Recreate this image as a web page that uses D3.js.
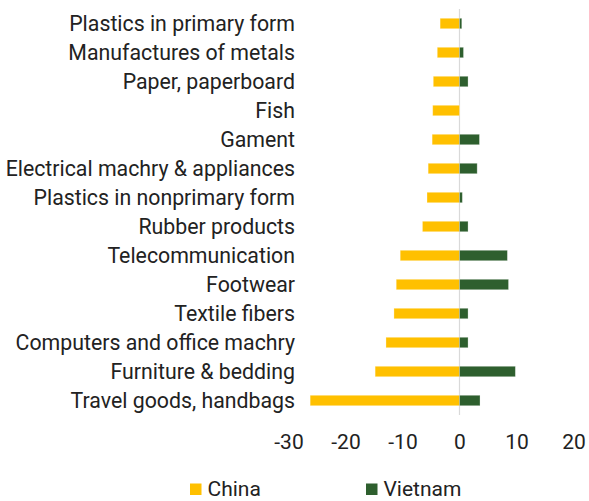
<!DOCTYPE html>
<html><head><meta charset="utf-8">
<script src="https://cdn.jsdelivr.net/npm/d3@7"></script>
<style>body{margin:0;background:#fff}svg{display:block;font-family:Roboto,"Noto Sans",sans-serif}</style>
</head><body><svg id="c" width="589" height="501"></svg>
<script>
const categories = ["Plastics in primary form","Manufactures of metals","Paper, paperboard","Fish","Gament","Electrical machry & appliances","Plastics in nonprimary form","Rubber products","Telecommunication","Footwear","Textile fibers","Computers and office machry","Furniture & bedding","Travel goods, handbags"];
const china = [-3.4,-3.9,-4.6,-4.7,-4.8,-5.5,-5.7,-6.5,-10.4,-11.1,-11.5,-12.9,-14.8,-26.2];
const vietnam = [0.4,0.7,1.5,0,3.5,3.1,0.5,1.5,8.4,8.6,1.5,1.5,9.8,3.6];
const ticks = [-30,-20,-10,0,10,20];
const series = [{name:"China", values:china, color:"#FFC000"},{name:"Vietnam", values:vietnam, color:"#2E5F2E"}];

const svg = d3.select("#c");
const x = d3.scaleLinear().domain([-30,20]).range([288.5,573.5]);
const y = d3.scaleBand().domain(categories).range([9,415]).paddingInner(0.64).paddingOuter(0.32);

svg.append("line").attr("x1",x(0)).attr("x2",x(0)).attr("y1",9).attr("y2",415).attr("stroke","#d9d9d9").attr("stroke-width",1.2);

series.forEach(s=>{
  svg.append("g").selectAll("rect").data(s.values).join("rect")
    .attr("x",d=>Math.min(x(0),x(d))).attr("width",d=>Math.abs(x(d)-x(0)))
    .attr("y",(d,i)=>y(categories[i])).attr("height",y.bandwidth())
    .attr("fill",s.color).attr("stroke",d=>d===0?"none":"#fff").attr("stroke-opacity",0.35).attr("stroke-width",0.8);
});

svg.append("g").selectAll("text").data(categories).join("text")
  .attr("x",295).attr("y",d=>y(d)+y.bandwidth()/2).attr("dy","0.35em")
  .attr("text-anchor","end").attr("font-size",21.3).attr("fill","#222").text(d=>d);

const ax = d3.axisBottom(x).tickValues(ticks).tickSize(0).tickPadding(0).tickFormat(d=>String(d));
const g = svg.append("g").attr("transform","translate(0,434)").call(ax);
g.select(".domain").remove();
g.selectAll("text").attr("font-size",21).attr("fill","#222").attr("font-family","Roboto,'Noto Sans',sans-serif").attr("dy","0.71em");

const lx = [190,366];
const lg = svg.append("g").selectAll("g").data(series).join("g").attr("transform",(d,i)=>`translate(${lx[i]},483.5)`);
lg.append("rect").attr("width",11.5).attr("height",11.5).attr("fill",d=>d.color);
lg.append("text").attr("x",17.5).attr("y",12).attr("font-size",21).attr("fill","#222").text(d=>d.name);
</script></body></html>
